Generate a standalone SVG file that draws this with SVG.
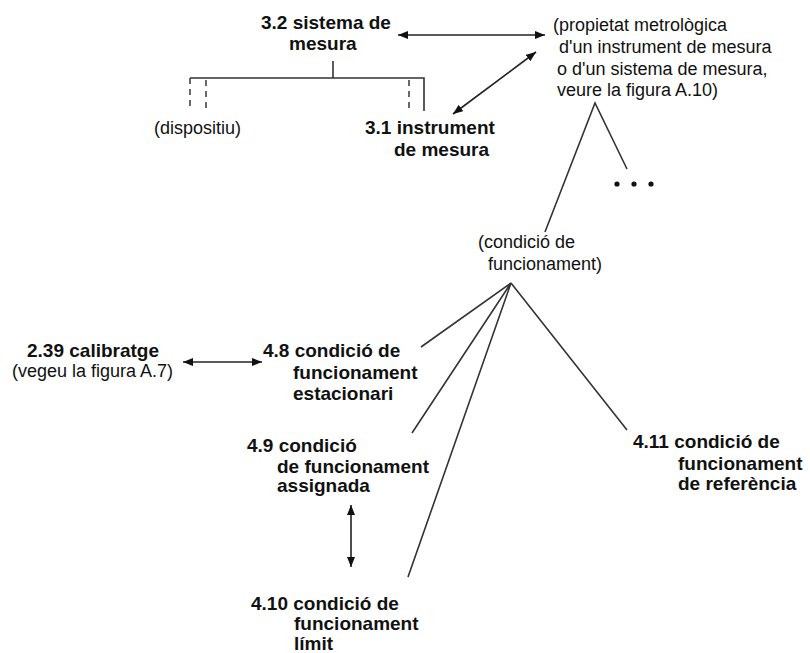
<svg xmlns="http://www.w3.org/2000/svg" width="810" height="653" viewBox="0 0 810 653">
<defs>
<style>
text{font-family:"Liberation Sans",Arial,sans-serif;fill:#111}
.b{font-weight:bold;font-size:19px}
.r{font-size:18px}
.ln{stroke:#333;stroke-width:1.6;fill:none}
.ds{stroke:#444;stroke-width:1.6;fill:none;stroke-dasharray:6 5}
.ar{stroke:#222;stroke-width:1.6;fill:none;marker-start:url(#ah);marker-end:url(#ah)}
</style>
<marker id="ah" viewBox="0 0 10 8" refX="10" refY="4" markerWidth="10" markerHeight="8" markerUnits="userSpaceOnUse" orient="auto-start-reverse">
<path d="M0,0 L10,4 L0,8 Z" fill="#111"/>
</marker>
</defs>
<rect width="810" height="653" fill="#fff"/>
<g id="connectors">
<path class="ln" d="M333,61 V78 M190,78 H424 V111"/>
<path class="ds" d="M190,78 V111 M206,80 V111 M409,80 V111"/>
<line class="ar" x1="398" y1="35" x2="545" y2="35"/>
<line class="ar" x1="536" y1="52" x2="453" y2="114"/>
<path class="ln" d="M545,232 L595,103 L627,169"/>
<path class="ln" d="M421,347 L511,283 L412,433 M511,283 L408,577 M511,283 L627,430"/>
<line class="ar" x1="183" y1="362" x2="262" y2="362"/>
<line class="ar" x1="351" y1="505" x2="351" y2="567"/>
</g>
<g id="n32">
<text class="b" x="261" y="29">3.2 sistema de</text>
<text class="b" x="289" y="50">mesura</text>
</g>
<g id="ndisp">
<text class="r" x="154" y="134">(dispositiu)</text>
</g>
<g id="n31">
<text class="b" x="365" y="134">3.1 instrument</text>
<text class="b" x="394" y="156">de mesura</text>
</g>
<g id="nprop">
<text class="r" x="553" y="31">(propietat metrològica</text>
<text class="r" x="559" y="53">d'un instrument de mesura</text>
<text class="r" x="557" y="75">o d'un sistema de mesura,</text>
<text class="r" x="557" y="96">veure la figura A.10)</text>
</g>
<g id="ndots">
<circle cx="617" cy="184" r="2.6" fill="#111"/>
<circle cx="634" cy="184" r="2.6" fill="#111"/>
<circle cx="651" cy="184" r="2.6" fill="#111"/>
</g>
<g id="ncond">
<text class="r" x="478" y="248">(condició de</text>
<text class="r" x="488" y="270">funcionament)</text>
</g>
<g id="n239">
<text class="b" x="27" y="357">2.39 calibratge</text>
<text class="r" x="12" y="377">(vegeu la figura A.7)</text>
</g>
<g id="n48">
<text class="b" x="263" y="357">4.8 condició de</text>
<text class="b" x="293" y="379">funcionament</text>
<text class="b" x="293" y="400">estacionari</text>
</g>
<g id="n49">
<text class="b" x="247" y="452">4.9 condició</text>
<text class="b" x="277" y="473">de funcionament</text>
<text class="b" x="277" y="492">assignada</text>
</g>
<g id="n410">
<text class="b" x="251" y="610">4.10 condició de</text>
<text class="b" x="294" y="630">funcionament</text>
<text class="b" x="294" y="650">límit</text>
</g>
<g id="n411">
<text class="b" x="633" y="448">4.11 condició de</text>
<text class="b" x="678" y="470">funcionament</text>
<text class="b" x="678" y="490">de referència</text>
</g>
</svg>
